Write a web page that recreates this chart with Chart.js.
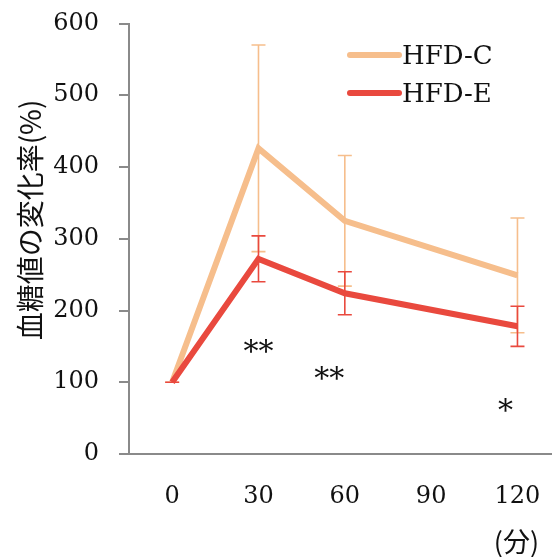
<!DOCTYPE html>
<html>
<head>
<meta charset="utf-8">
<script src="https://cdn.jsdelivr.net/npm/chart.js@4"></script>
<style>
  html, body { margin: 0; padding: 0; background: #fff; overflow: hidden; }
  canvas { display: block; }
</style>
</head>
<body>
<canvas id="chart" width="552" height="557"></canvas>
<script>
// データ（分, 血糖値の変化率 %）
const minutes = [0, 30, 60, 120];
const xTicks = [0, 30, 60, 90, 120];
const hfdC = [100, 426, 325, 249];
const hfdCErr = [0, 144, 91, 80];
const hfdE = [100, 272, 224, 178];
const hfdEErr = [0, 32, 30, 28];

// 有意差マーク（x, y はデータ座標）
const marks = [
    { text: "**", x: 30, y: 150 },
    { text: "**", x: 54.6, y: 113 },
    { text: "*", x: 115.8, y: 68 }
];

const colorC = "#F6BE8C";
const colorE = "#E9493E";
const serif = "'DejaVu Serif', serif";
const textColor = "#111";

// エラーバー描画
const errorBars = {
    id: "errorBars",
    afterDatasetDraw(chart, args) {
        const ds = chart.data.datasets[args.index];
        const x = chart.scales.x, y = chart.scales.y;
        const ctx = chart.ctx;
        ctx.save();
        ctx.strokeStyle = ds.borderColor;
        ctx.lineWidth = 1.6;
        ds.data.forEach((p, i) => {
            const e = ds.errors[i];
            const px = x.getPixelForValue(p.x);
            const top = y.getPixelForValue(p.y + e);
            const bot = y.getPixelForValue(p.y - e);
            ctx.beginPath();
            ctx.moveTo(px, top); ctx.lineTo(px, bot);
            ctx.moveTo(px - 7, top); ctx.lineTo(px + 7, top);
            ctx.moveTo(px - 7, bot); ctx.lineTo(px + 7, bot);
            ctx.stroke();
        });
        ctx.restore();
    }
};

// 凡例・軸タイトル・有意差
const extras = {
    id: "extras",
    afterDraw(chart) {
        const ctx = chart.ctx;
        const x = chart.scales.x, y = chart.scales.y;
        ctx.save();

        // 凡例
        const items = [
            { label: "HFD-C", color: colorC },
            { label: "HFD-E", color: colorE }
        ];
        ctx.font = "26px " + serif;
        ctx.textBaseline = "middle";
        ctx.textAlign = "left";
        items.forEach((it, i) => {
            const ly = 55 + i * 38;
            ctx.strokeStyle = it.color;
            ctx.lineWidth = 6;
            ctx.lineCap = "round";
            ctx.beginPath();
            ctx.moveTo(350, ly); ctx.lineTo(399, ly);
            ctx.stroke();
            ctx.fillStyle = textColor;
            ctx.fillText(it.label, 402, ly + 2);
        });

        // 有意差マーク
        ctx.font = "30px " + serif;
        ctx.textAlign = "center";
        marks.forEach(m => {
            ctx.fillText(m.text, x.getPixelForValue(m.x), y.getPixelForValue(m.y) + 7);
        });

        // x軸単位
        ctx.font = "27px 'Noto Sans CJK JP', sans-serif";
        ctx.fillText("(分)", x.getPixelForValue(120) - 1, 542);

        // y軸タイトル
        ctx.translate(30, 220);
        ctx.rotate(-Math.PI / 2);
        ctx.font = "28px 'Noto Sans CJK JP', sans-serif";
        ctx.fillText("血糖値の変化率(%)", 0, 0);
        ctx.restore();
    }
};

new Chart(document.getElementById("chart"), {
    type: "line",
    data: {
        datasets: [
            {
                label: "HFD-C",
                data: minutes.map((m, i) => ({ x: m, y: hfdC[i] })),
                errors: hfdCErr,
                borderColor: colorC,
                borderWidth: 6,
                pointRadius: 0,
                order: 2
            },
            {
                label: "HFD-E",
                data: minutes.map((m, i) => ({ x: m, y: hfdE[i] })),
                errors: hfdEErr,
                borderColor: colorE,
                borderWidth: 6,
                pointRadius: 0,
                order: 1
            }
        ]
    },
    options: {
        responsive: false,
        animation: false,
        layout: { padding: { top: 23.5, right: 0, left: 0, bottom: 0 } },
        plugins: {
            legend: { display: false },
            tooltip: { enabled: false }
        },
        scales: {
            x: {
                type: "linear",
                min: -15,
                max: 132,
                afterBuildTicks: s => { s.ticks = xTicks.map(v => ({ value: v })); },
                afterFit: s => { s.height = 103; s.paddingLeft = 0; s.paddingRight = 0; },
                grid: { display: false, drawTicks: false },
                border: { display: true, color: "#8a8a8a", width: 2 },
                ticks: {
                    font: { family: serif, size: 24 },
                    color: textColor,
                    padding: 28,
                    maxRotation: 0
                }
            },
            y: {
                min: 0,
                max: 600,
                afterFit: s => { s.width = 129; s.paddingTop = 0; s.paddingBottom = 0; },
                grid: { drawOnChartArea: false, drawTicks: true, tickLength: 10, color: "#8a8a8a", lineWidth: 2 },
                border: { display: true, color: "#8a8a8a", width: 2 },
                ticks: {
                    stepSize: 100,
                    font: { family: serif, size: 24 },
                    color: textColor,
                    padding: 20
                }
            }
        }
    },
    plugins: [errorBars, extras]
});
</script>
</body>
</html>
